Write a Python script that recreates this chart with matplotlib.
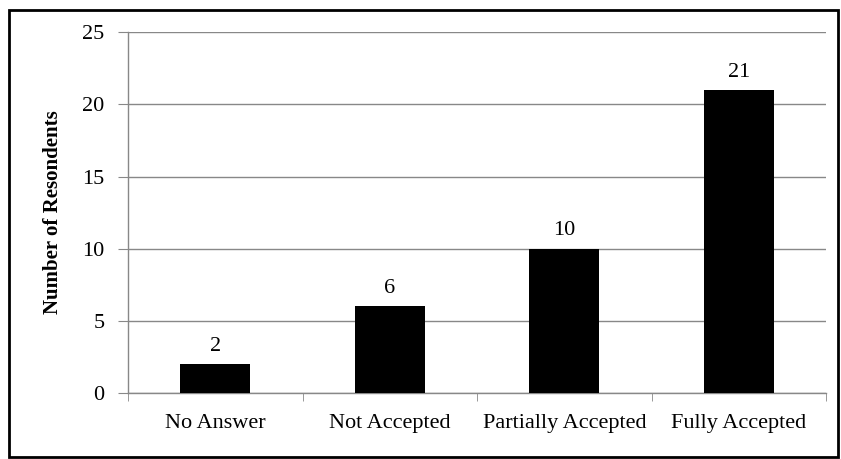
import matplotlib.pyplot as plt
from matplotlib.patches import Rectangle

# Data
categories = ['No Answer', 'Not Accepted', 'Partially Accepted', 'Fully Accepted']
counts = [2, 6, 10, 21]
y_ticks = [0, 5, 10, 15, 20, 25]

plt.rcParams['font.family'] = ['Liberation Serif', 'DejaVu Serif']

fig = plt.figure(figsize=(8.41, 4.59), dpi=100)
ax = fig.add_axes([0.1522, 0.1438, 0.830, 0.786])

x = range(len(categories))
bars = ax.bar(x, counts, width=0.4, color='black', zorder=3)

for xi, v in zip(x, counts):
    ax.annotate(str(v), (xi, v), xytext=(0, 6), textcoords='offset points',
                ha='center', va='bottom', fontsize=16)

ax.set_xlim(-0.5, len(categories) - 0.5)
ax.set_ylim(0, 25)
ax.set_yticks(y_ticks)
ax.set_xticks(list(x))
ax.set_xticklabels(categories, fontsize=16)
ax.tick_params(axis='x', length=0, pad=15)
ax.set_xticks([i - 0.5 for i in range(len(categories) + 1)], minor=True)
ax.tick_params(axis='x', which='minor', length=6, color='#888888', direction='out')
ax.tick_params(axis='y', length=7, color='#888888', labelsize=16, pad=10)

ax.grid(axis='y', color='#888888', linewidth=1, zorder=0)
for s in ['top', 'right']:
    ax.spines[s].set_visible(False)
for s in ['left', 'bottom']:
    ax.spines[s].set_color('#888888')
    ax.spines[s].set_linewidth(1)

ax.set_ylabel('Number of Resondents', fontsize=15, fontweight='bold', labelpad=14)

# outer frame
fig.patches.append(Rectangle((9 / 841, 2 / 459), 829 / 841, 447 / 459,
                             transform=fig.transFigure, fill=False,
                             edgecolor='black', linewidth=2))

fig.savefig('out.png', dpi=100)
